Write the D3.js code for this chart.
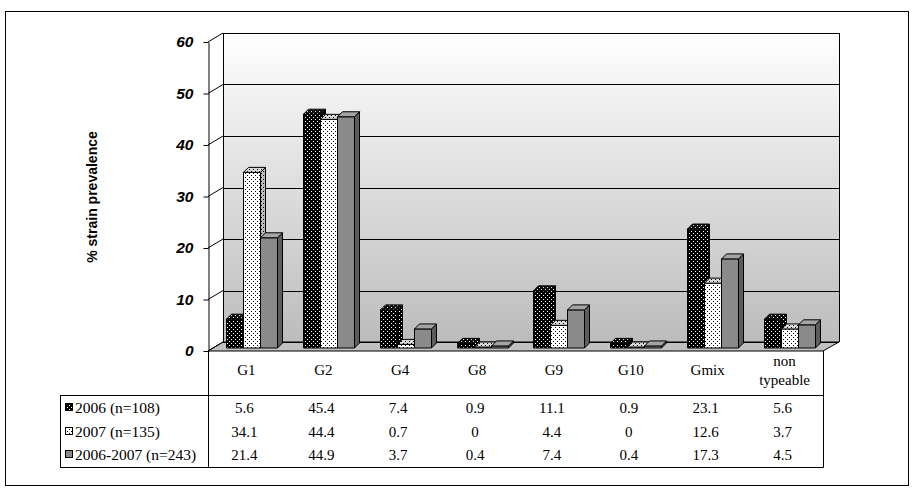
<!DOCTYPE html>
<html><head><meta charset="utf-8">
<script src="https://cdn.jsdelivr.net/npm/d3@7"></script>
<style>body{margin:0;background:#fff}svg{display:block}</style>
</head><body>
<script>
const categories = ["G1","G2","G4","G8","G9","G10","Gmix","non typeable"];
const seriesNames = ["2006 (n=108)","2007 (n=135)","2006-2007 (n=243)"];
const s2006 = [5.6,45.4,7.4,0.9,11.1,0.9,23.1,5.6];
const s2007 = [34.1,44.4,0.7,0,4.4,0,12.6,3.7];
const s0607 = [21.4,44.9,3.7,0.4,7.4,0.4,17.3,4.5];
const yTicks = [0,10,20,30,40,50,60];
const series = [s2006,s2007,s0607];

const W=918,H=497;
const svg=d3.select("body").append("svg").attr("width",W).attr("height",H);
const defs=svg.append("defs");

function dotPattern(id,bg,dot){
  const p=defs.append("pattern").attr("id",id).attr("patternUnits","userSpaceOnUse").attr("width",4).attr("height",4);
  p.append("rect").attr("width",4).attr("height",4).attr("fill",bg);
  p.append("rect").attr("x",1).attr("y",1).attr("width",1).attr("height",1).attr("fill",dot);
  p.append("rect").attr("x",3).attr("y",3).attr("width",1).attr("height",1).attr("fill",dot);
}
dotPattern("pBlack","#000","#fff");
dotPattern("pBlackTop","#111","#ddd");
dotPattern("pWhite","#fff","#000");
dotPattern("pWhiteTop","#d8d8d8","#000");
dotPattern("pWhiteSide","#bbb","#000");
const grad=defs.append("linearGradient").attr("id","wallGrad").attr("x1",0).attr("y1",0).attr("x2",0).attr("y2",1);
grad.append("stop").attr("offset","0%").attr("stop-color","#ffffff");
grad.append("stop").attr("offset","100%").attr("stop-color","#bcbcbc");

const faces=[
  {front:"url(#pBlack)",side:"url(#pBlack)",top:"url(#pBlackTop)"},
  {front:"url(#pWhite)",side:"url(#pWhiteSide)",top:"url(#pWhiteTop)"},
  {front:"#8a8a8a",side:"#5c5c5c",top:"#a4a4a4"}
];

svg.append("rect").attr("x",5.5).attr("y",11.5).attr("width",903).attr("height",474).attr("fill","none").attr("stroke","#000");

const xL=208, xR=823, DX=15, DY=9;
const y=d3.scaleLinear().domain([0,60]).range([351,42]);
const x0=d3.scaleBand().domain(categories).range([xL,xR]);
const x1=d3.scaleBand().domain([0,1,2]).range([0,51]);

svg.append("rect").attr("x",xL+DX).attr("y",y(60)-DY).attr("width",xR-xL+1).attr("height",y(0)-y(60)).attr("fill","url(#wallGrad)");
svg.append("path").attr("d",`M${xL},${y(0)}L${xL+DX},${y(0)-DY}L${xR+DX+1},${y(0)-DY}L${xR},${y(0)}Z`).attr("fill","#c0c0c0").attr("stroke","#000");
const g=svg.append("g").attr("stroke","#000").attr("fill","none");
yTicks.forEach(t=>{
  g.append("line").attr("x1",xL+DX).attr("x2",xR+DX+1).attr("y1",Math.round(y(t)-DY)+0.5).attr("y2",Math.round(y(t)-DY)+0.5);
  g.append("line").attr("x1",xL).attr("y1",y(t)).attr("x2",xL+DX).attr("y2",y(t)-DY);
});
g.append("line").attr("x1",xL+DX+0.5).attr("x2",xL+DX+0.5).attr("y1",y(60)-DY).attr("y2",y(0)-DY);
g.append("line").attr("x1",xR+DX+1.5).attr("x2",xR+DX+1.5).attr("y1",y(60)-DY).attr("y2",y(0)-DY);

const yAxis=d3.axisLeft(y).tickValues(yTicks).tickSize(5).tickSizeOuter(0).tickPadding(10);
const ga=svg.append("g").attr("transform",`translate(${xL+0.5},0)`).call(yAxis);
ga.selectAll("text").attr("font-family","Arial, 'Liberation Sans', sans-serif").attr("font-weight","bold").attr("font-style","italic").attr("font-size","15.5px").attr("fill","#000");
ga.selectAll("line,path").attr("stroke","#000");

svg.append("text").attr("transform","translate(97,197) rotate(-90)").attr("text-anchor","middle")
  .attr("font-family","Arial, 'Liberation Sans', sans-serif").attr("font-weight","bold").attr("font-size","14px").text("% strain prevalence");

const BD=5, BDY=5, BOX=5, BOY=3;
const bars=svg.append("g").attr("stroke","#000").attr("stroke-width",1).attr("stroke-linejoin","round");
categories.forEach((c,i)=>{
  series.forEach((s,j)=>{
    const v=s[i];
    const bx=Math.round(x0(c)+(x0.bandwidth()-51)/2+BOX+x1(j))+0.5;
    const bw=x1.bandwidth();
    const yb=y(0)-BOY, yt=Math.min(y(v)-BOY, yb-1);
    const f=faces[j];
    bars.append("path").attr("d",`M${bx},${yb}L${bx+bw},${yb}L${bx+bw},${yt}L${bx},${yt}Z`).attr("fill",f.front);
    bars.append("path").attr("d",`M${bx+bw},${yb}L${bx+bw+BD},${yb-BDY}L${bx+bw+BD},${yt-BDY}L${bx+bw},${yt}Z`).attr("fill",f.side);
    bars.append("path").attr("d",`M${bx},${yt}L${bx+bw},${yt}L${bx+bw+BD},${yt-BDY}L${bx+BD},${yt-BDY}Z`).attr("fill",f.top);
  });
});

const tb=svg.append("g").attr("stroke","#000").attr("fill","none");
tb.append("line").attr("x1",xL+0.5).attr("x2",xL+0.5).attr("y1",y(0)).attr("y2",467.5);
tb.append("line").attr("x1",xR+0.5).attr("x2",xR+0.5).attr("y1",y(0)).attr("y2",467.5);
tb.append("line").attr("x1",60).attr("x2",xR+0.5).attr("y1",395.5).attr("y2",395.5);
tb.append("line").attr("x1",60).attr("x2",xR+0.5).attr("y1",467.5).attr("y2",467.5);
tb.append("line").attr("x1",60.5).attr("x2",60.5).attr("y1",395.5).attr("y2",467.5);

const serif="'Times New Roman', 'Liberation Serif', serif";
const cat=svg.append("g").attr("font-family",serif).attr("font-size","15px").attr("text-anchor","middle");
categories.forEach(c=>{
  const cx=x0(c)+x0.bandwidth()/2;
  const parts=c==="non typeable"?["non","typeable"]:[c];
  const y0=parts.length===1?375:366;
  parts.forEach((p,k)=>cat.append("text").attr("x",cx).attr("y",y0+k*19).text(p));
});
const rowsY=[413,437,460];
const keyFill=["url(#pBlack)","url(#pWhite)","#8a8a8a"];
series.forEach((s,j)=>{
  svg.append("rect").attr("x",65.5).attr("y",rowsY[j]-9.5).attr("width",7).attr("height",7).attr("fill",keyFill[j]).attr("stroke","#000");
  svg.append("text").attr("x",75).attr("y",rowsY[j]).attr("font-family",serif).attr("font-size","15.5px").text(seriesNames[j]);
  s.forEach((v,i)=>{
    svg.append("text").attr("x",x0(categories[i])+x0.bandwidth()/2-2).attr("y",rowsY[j]).attr("text-anchor","middle")
      .attr("font-family",serif).attr("font-size","15px").text(String(v));
  });
});
</script>
</body></html>
